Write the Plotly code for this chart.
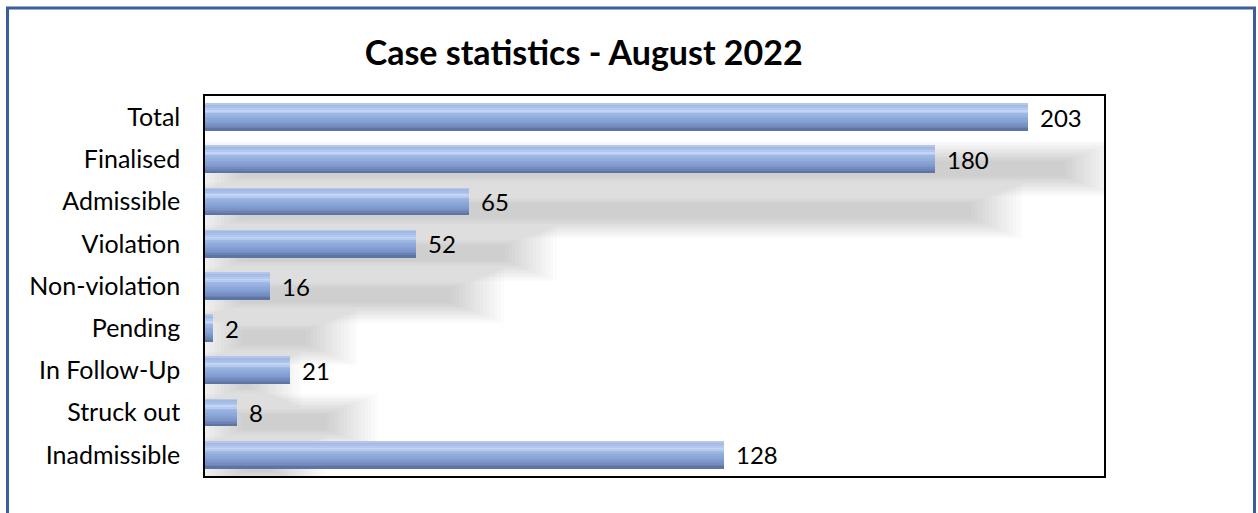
import plotly.graph_objects as go

categories = ["Total", "Finalised", "Admissible", "Violation", "Non-violation",
              "Pending", "In Follow-Up", "Struck out", "Inadmissible"]
values = [203, 180, 65, 52, 16, 2, 21, 8, 128]
title_text = "Case statistics - August 2022"

FONT = "Lato"
fig = go.Figure()

# ---- soft drop shadow (layered translucent bars) ----
L = 16
for k in range(L):
    ex = k * 0.85
    ey = k * 0.032
    fig.add_trace(go.Bar(
        y=categories, x=[v + 9 - 9 + 2 * ex for v in values],
        base=[9 - ex] * len(values), orientation="h",
        offset=1.22 - 0.18 - ey, width=0.36 + 2 * ey,
        marker=dict(color="rgba(90,90,90,0.02)", line=dict(width=0)),
        hoverinfo="skip", showlegend=False))

# ---- bevelled bar look: vertical colour profile drawn as thin stripes ----
profile = [  # (fraction from top, colour)
    (0.00, (190, 205, 234)),
    (0.10, (160, 184, 226)),
    (0.22, (178, 200, 240)),
    (0.30, (200, 216, 245)),
    (0.40, (160, 184, 228)),
    (0.55, (142, 170, 219)),
    (0.75, (128, 154, 206)),
    (0.90, (108, 132, 184)),
    (1.00, (88, 108, 152)),
]

def colour_at(f):
    for (f0, c0), (f1, c1) in zip(profile[:-1], profile[1:]):
        if f0 <= f <= f1:
            t = (f - f0) / (f1 - f0) if f1 > f0 else 0
            return "rgb(%d,%d,%d)" % tuple(round(a + (b - a) * t) for a, b in zip(c0, c1))
    return "rgb(%d,%d,%d)" % profile[-1][1]

BAR_W = 0.64
N = 16
for i in range(N):
    f = (i + 0.5) / N
    fig.add_trace(go.Bar(
        y=categories, x=values, orientation="h",
        offset=-BAR_W / 2 + i * BAR_W / N, width=BAR_W / N * 1.15,
        marker=dict(color=colour_at(f), line=dict(width=0)),
        hoverinfo="skip", showlegend=False))

# ---- value labels ----
for c, v in zip(categories, values):
    fig.add_annotation(x=v, y=c, text=str(v), showarrow=False,
                       xanchor="left", xshift=10, yshift=0,
                       font=dict(family=FONT, size=24, color="black"))

# ---- outer blue frame ----
fig.add_shape(type="rect", xref="paper", yref="paper",
              x0=-0.2197, x1=1.1674, y0=-0.3, y1=1.2316,
              line=dict(color="#3c5d9c", width=3), layer="above")

fig.update_layout(
    width=1258, height=513,
    margin=dict(l=205, r=154, t=96, b=37),
    paper_bgcolor="white", plot_bgcolor="white",
    barmode="overlay", bargap=0,
    title=dict(text="<b>" + title_text + "</b>", x=0.464, xanchor="center",
               y=0.897, yanchor="middle",
               font=dict(family=FONT, size=34, color="black")),
    xaxis=dict(range=[0, 221.7], showticklabels=False, showgrid=False,
               zeroline=False, showline=True, linecolor="black", linewidth=1.5,
               mirror=True, ticks=""),
    yaxis=dict(range=[len(categories) - 0.5, -0.5], autorange=False,
               showgrid=False, zeroline=False,
               showline=True, linecolor="black", linewidth=1.5, mirror=True,
               ticks="", ticklabelstandoff=18,
               tickfont=dict(family=FONT, size=25, color="black")),
)

fig.write_html("out.html", config={"displayModeBar": False},
               post_script="document.body.style.margin='0';document.body.style.overflow='hidden';")
